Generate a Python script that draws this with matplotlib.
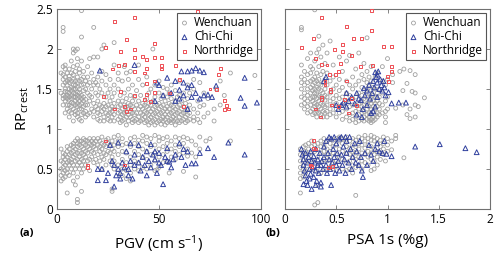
import matplotlib
matplotlib.use("Agg")
import matplotlib.pyplot as plt
from matplotlib.ticker import FormatStrFormatter

plt.rcParams['font.family'] = ['Open Sans', 'DejaVu Sans']
plt.rcParams['mathtext.fontset'] = 'custom'
plt.rcParams['mathtext.rm'] = 'Open Sans'
plt.rcParams['mathtext.it'] = 'Open Sans'

# Wenchuan, panel (a): columns of (PGV, [RP_crest values])
wen_pgv_cols = [
    (2, [1.45, 1.7, 0.35, 0.42, 0.5, 0.6, 0.75]),
    (3, [1.3, 1.38, 1.42, 1.55, 1.62, 1.68, 1.78, 2.22, 2.27, 0.38, 0.45, 0.52, 0.58, 0.65, 0.7]),
    (4, [1.2, 1.35, 1.4, 1.47, 1.5, 1.58, 1.65, 1.75, 1.8, 0.4, 0.48, 0.55, 0.62, 0.68]),
    (5, [1.25, 1.3, 1.38, 1.42, 1.46, 1.55, 1.6, 1.7, 0.2, 0.45, 0.5, 0.58, 0.65, 0.72, 0.78]),
    (6, [1.15, 1.22, 1.3, 1.36, 1.4, 1.45, 1.5, 1.58, 1.62, 1.66, 1.75, 0.42, 0.55, 0.6, 0.68, 0.75]),
    (7, [1.2, 1.28, 1.33, 1.38, 1.42, 1.48, 1.52, 1.6, 1.7, 1.85, 0.5, 0.58, 0.62, 0.7, 0.8]),
    (8, [1.1, 1.25, 1.32, 1.4, 1.45, 1.5, 1.55, 1.62, 1.68, 1.78, 1.95, 2.0, 0.35, 0.45, 0.55, 0.65, 0.72, 0.78, 0.82]),
    (9, [1.18, 1.22, 1.3, 1.35, 1.4, 1.44, 1.5, 1.55, 1.6, 1.72, 1.98, 0.3, 0.5, 0.6, 0.68, 0.75, 0.85]),
    (10, [1.15, 1.2, 1.28, 1.32, 1.38, 1.42, 1.46, 1.52, 1.58, 1.65, 1.8, 1.88, 2.0, 0.08, 0.12, 0.4, 0.55, 0.62, 0.7, 0.78, 0.82, 0.88]),
    (11, [1.12, 1.25, 1.3, 1.35, 1.4, 1.45, 1.5, 1.6, 1.7, 1.75, 0.5, 0.58, 0.65, 0.72, 0.8, 0.85]),
    (12, [1.1, 1.18, 1.25, 1.32, 1.38, 1.42, 1.55, 1.62, 1.85, 2.15, 2.48, 0.22, 0.45, 0.55, 0.62, 0.7, 0.78, 0.85]),
    (13, [1.2, 1.28, 1.35, 1.4, 1.48, 1.56, 1.65, 1.72, 0.5, 0.6, 0.68, 0.75, 0.82, 0.88]),
    (14, [1.15, 1.22, 1.3, 1.37, 1.5, 1.6, 0.55, 0.65, 0.72, 0.8, 0.86]),
    (15, [1.18, 1.3, 1.45, 1.55, 1.65, 1.78, 0.6, 0.7, 0.78, 0.85]),
    (16, [1.2, 1.35, 1.42, 1.58, 1.88, 0.48, 0.62, 0.75, 0.82, 0.88]),
    (17, [1.25, 1.4, 1.5, 1.7, 0.65, 0.72, 0.8, 0.85]),
    (18, [1.15, 1.22, 1.32, 1.55, 1.62, 1.9, 2.27, 0.58, 0.7, 0.78, 0.82, 0.88]),
    (19, [1.28, 1.45, 1.58, 0.62, 0.75, 0.85]),
    (20, [1.12, 1.2, 1.25, 1.35, 1.42, 1.55, 1.65, 1.9, 0.55, 0.68, 0.8, 0.88]),
    (21, [1.1, 1.18, 1.3, 1.5, 0.6, 0.72, 0.78, 0.85]),
    (22, [1.22, 1.28, 1.45, 1.6, 1.72, 2.0, 0.5, 0.65, 0.75, 0.82, 0.9]),
    (23, [1.1, 1.15, 1.25, 1.32, 2.05, 0.62, 0.7, 0.8]),
    (24, [1.2, 1.28, 1.4, 1.55, 1.68, 0.55, 0.68, 0.78, 0.86]),
    (25, [1.12, 1.18, 1.3, 1.45, 0.72, 0.82, 0.88]),
    (26, [1.1, 1.2, 1.25, 1.35, 1.5, 1.62, 0.6, 0.7, 0.8]),
    (27, [1.15, 1.22, 1.28, 1.4, 0.22, 0.25, 0.55, 0.65, 0.75, 0.85]),
    (28, [1.1, 1.18, 1.25, 1.32, 1.45, 1.55, 1.8, 2.08, 0.5, 0.6, 0.72, 0.8, 0.9]),
    (30, [1.12, 1.2, 1.28, 1.35, 1.5, 1.62, 1.7, 0.45, 0.55, 0.68, 0.78, 0.85, 0.92]),
    (31, [1.08, 1.15, 1.22, 1.3, 1.42]),
    (32, [1.1, 1.18, 1.25, 1.35, 1.6, 0.42, 0.5, 0.62, 0.72, 0.8, 0.88]),
    (33, [1.12, 1.2, 1.3, 1.45, 1.78]),
    (34, [1.05, 1.15, 1.22, 1.28, 1.38, 1.7, 0.38, 0.48, 0.58, 0.7, 0.82]),
    (35, [1.1, 1.18, 1.25, 1.32, 1.5, 1.62]),
    (36, [1.15, 1.22, 1.3, 1.42, 1.72, 0.35, 0.45, 0.55, 0.65, 0.78, 0.88]),
    (37, [1.08, 1.12, 1.2, 1.28, 1.35, 1.55]),
    (38, [1.1, 1.18, 1.25, 1.4, 0.5, 0.6, 0.72, 0.82, 0.9]),
    (39, [1.12, 1.2, 1.3, 1.48]),
    (40, [1.08, 1.15, 1.25, 1.35, 1.62, 1.8, 0.48, 0.58, 0.68, 0.78, 0.86]),
    (41, [1.1, 1.2, 1.28, 1.42]),
    (42, [1.12, 1.18, 1.25, 1.32, 1.55, 0.52, 0.65, 0.75, 0.85, 0.92]),
    (43, [1.08, 1.15, 1.22, 1.3]),
    (44, [1.1, 1.2, 1.28, 1.38, 1.65, 0.5, 0.62, 0.72, 0.82, 0.9]),
    (45, [1.05, 1.12, 1.18, 1.25, 1.32, 1.45]),
    (46, [1.08, 1.15, 1.22, 1.3, 1.5, 0.55, 0.68, 0.78, 0.88]),
    (47, [1.1, 1.18, 1.25, 1.35, 2.0]),
    (48, [1.05, 1.12, 1.2, 1.28, 1.4, 1.55, 0.48, 0.6, 0.7, 0.8, 0.92]),
    (49, [1.08, 1.15, 1.22, 1.3, 0.49]),
    (50, [1.1, 1.18, 1.25, 1.32, 1.45, 1.6, 0.52, 0.65, 0.75, 0.85, 0.9]),
    (51, [1.06, 1.12, 1.2, 1.28, 1.38]),
    (52, [1.1, 1.15, 1.22, 1.3, 1.42, 1.52, 0.58, 0.68, 0.78, 0.88]),
    (53, [1.05, 1.12, 1.18, 1.25, 1.35]),
    (54, [1.08, 1.15, 1.22, 1.28, 1.4, 1.5, 0.6, 0.72, 0.82, 0.9]),
    (55, [1.1, 1.18, 1.25, 1.32, 1.45, 0.45]),
    (56, [1.08, 1.12, 1.2, 1.3, 1.38, 1.55, 0.65, 0.75, 0.85]),
    (57, [1.1, 1.15, 1.22, 1.28]),
    (58, [1.05, 1.12, 1.18, 1.25, 1.35, 1.48, 0.62, 0.72, 0.8, 0.9]),
    (59, [1.1, 1.2, 1.28, 1.4]),
    (60, [1.08, 1.15, 1.22, 1.3, 1.42, 1.6, 0.68, 0.78, 0.88]),
    (61, [1.1, 1.18, 1.25, 1.35]),
    (62, [1.12, 1.2, 1.28, 1.45, 0.47, 0.7, 0.82, 0.9]),
    (63, [1.08, 1.15, 1.22, 1.32]),
    (64, [1.1, 1.18, 1.25, 1.38, 1.55, 0.66, 0.75, 0.88]),
    (65, [1.12, 1.2, 1.3, 1.45]),
    (66, [0.7, 0.85]),
    (67, [1.1, 1.15, 1.25, 1.5, 1.62]),
    (68, [0.4, 0.65, 0.8]),
    (69, [1.12, 1.2, 1.35]),
    (70, [1.08, 1.28, 1.58, 0.75, 0.9]),
    (72, [1.15, 1.3, 1.45]),
    (73, [0.85]),
    (74, [1.2, 1.38]),
    (75, [0.88]),
    (77, [1.1, 1.25]),
    (78, [1.5]),
    (80, [1.3, 1.6]),
    (82, [1.42]),
    (85, [1.7, 0.85]),
    (97, [1.67]),
]

# Chi-Chi, panel (a): (PGV, RP_crest)
chichi_pgv = [
    (21, 1.73), (38, 1.8), (49, 1.58), (54, 1.64), (61, 1.72), (64, 1.72), (66, 1.73),
    (68, 1.76), (70, 1.73), (72, 1.71), (58, 1.6), (62, 1.58), (64, 1.52), (60, 1.49),
    (56, 1.45), (62, 1.42), (66, 1.4), (68, 1.45), (70, 1.38), (72, 1.42), (60, 1.38),
    (58, 1.35), (64, 1.25), (74, 1.43), (78, 1.54), (52, 1.42), (50, 1.55), (66, 1.55),
    (76, 1.4), (48, 1.35), (90, 1.39), (92, 1.29), (98, 1.33), (92, 1.64),
    (20, 0.36), (24, 0.36), (28, 0.28), (20, 0.5), (22, 0.5), (25, 0.45), (26, 0.8),
    (30, 0.83), (36, 0.82), (46, 0.81), (48, 0.72), (28, 0.55), (30, 0.5), (31, 0.45),
    (32, 0.58), (33, 0.52), (35, 0.5), (36, 0.6), (37, 0.38), (38, 0.55), (40, 0.58),
    (41, 0.48), (42, 0.65), (43, 0.55), (44, 0.42), (45, 0.6), (46, 0.52), (47, 0.68),
    (48, 0.62), (49, 0.45), (50, 0.58), (50, 0.7), (52, 0.31), (51, 0.55), (53, 0.65),
    (54, 0.6), (55, 0.59), (54, 0.76), (56, 0.52), (58, 0.68), (60, 0.82), (62, 0.75),
    (64, 0.72), (66, 0.57), (68, 0.57), (70, 0.7), (74, 0.76), (77, 0.65), (84, 0.83),
    (92, 0.68), (34, 0.72), (38, 0.68), (44, 0.72), (29, 0.42), (31, 0.38), (27, 0.6),
    (35, 0.42), (40, 0.8), (57, 0.62), (61, 0.65), (63, 0.55),
]

# Northridge, panel (a): (PGV, RP_crest)
northridge_pgv = [
    (28, 2.35), (38, 2.39), (34, 2.12), (24, 2.02), (31, 1.97), (38, 1.99), (38, 1.89),
    (42, 1.91), (48, 1.89), (44, 1.87), (30, 1.79), (33, 1.81), (27, 1.75), (38, 1.72),
    (43, 1.70), (44, 1.76), (48, 1.6), (44, 1.57), (44, 1.43), (38, 1.42), (43, 1.37),
    (46, 1.34), (48, 1.46), (28, 1.25), (36, 1.25), (34, 1.22), (31, 1.47), (23, 1.41),
    (33, 1.28), (24, 0.85), (15, 0.55), (15, 0.52), (33, 0.55), (48, 2.07), (51, 1.89),
    (51, 1.79), (51, 1.75), (58, 1.79), (66, 2.0), (65, 2.12), (69, 2.14), (69, 2.47),
    (72, 1.89), (80, 1.93), (80, 1.76), (79, 1.68), (75, 1.5), (78, 1.49), (82, 1.36),
    (83, 1.29), (82, 1.24), (84, 1.25), (62, 1.28), (55, 1.45), (60, 1.62),
]

# Wenchuan, panel (b): columns of (PSA 1s, [RP_crest values])
wen_psa_cols = [
    (0.15, [0.2, 0.38, 0.45, 0.52, 0.6, 0.68, 0.75]),
    (0.16, [1.3, 1.4, 1.5, 1.58, 1.65, 1.8, 2.24, 2.27]),
    (0.18, [0.4, 0.5, 0.55, 0.62, 0.7, 0.78]),
    (0.19, [1.25, 1.32, 1.38, 1.45, 1.55, 1.62, 1.72]),
    (0.2, [0.45, 0.58, 0.65, 0.72, 0.8]),
    (0.22, [1.2, 1.28, 1.35, 1.42, 1.5, 1.58, 1.68, 1.88]),
    (0.23, [0.5, 0.6, 0.68, 0.75, 0.82]),
    (0.25, [1.22, 1.3, 1.38, 1.45, 1.52, 1.6, 1.7, 1.78, 1.95]),
    (0.26, [0.55, 0.62, 0.7, 0.78, 0.85]),
    (0.27, [1.18, 1.25, 1.35, 1.4, 1.48, 1.55, 1.62, 1.75]),
    (0.29, [1.2, 1.28, 1.32, 1.4, 1.45, 1.5, 1.58, 1.65, 1.85, 2.49, 0.05, 0.48, 0.6, 0.72, 0.8]),
    (0.31, [1.15, 1.22, 1.3, 1.38, 1.44, 1.52, 1.6, 1.7, 1.95]),
    (0.32, [0.08, 0.3, 0.52, 0.65, 0.75, 0.82]),
    (0.33, [1.2, 1.28, 1.35, 1.42, 1.5, 1.56, 1.62, 1.78, 2.0, 2.16]),
    (0.35, [1.18, 1.25, 1.32, 1.4, 1.48, 1.55, 1.68, 1.9, 0.45, 0.58, 0.7, 0.78, 0.85]),
    (0.37, [1.15, 1.22, 1.3, 1.38, 1.45, 1.58, 1.72, 2.05]),
    (0.38, [0.5, 0.62, 0.72, 0.8, 0.88]),
    (0.39, [1.2, 1.28, 1.36, 1.42, 1.5, 1.62, 1.82]),
    (0.41, [1.15, 1.22, 1.3, 1.4, 1.55, 1.7, 1.95, 0.48, 0.6, 0.68, 0.75, 0.85]),
    (0.44, [1.18, 1.25, 1.35, 1.45, 1.6, 2.1, 0.52, 0.65, 0.72, 0.82, 0.88]),
    (0.47, [1.2, 1.3, 1.38, 1.5, 1.65, 1.8, 0.5, 0.58, 0.7, 0.78, 0.86]),
    (0.5, [1.15, 1.25, 1.32, 1.42, 1.55, 0.48, 0.6, 0.68, 0.8, 0.88]),
    (0.53, [1.2, 1.28, 1.38, 1.48, 1.62, 1.9, 0.55, 0.65, 0.75, 0.85, 0.9]),
    (0.56, [1.12, 1.22, 1.3, 1.4, 1.52, 1.72, 0.5, 0.62, 0.72, 0.82, 0.88]),
    (0.6, [1.15, 1.25, 1.35, 1.45, 1.6, 1.85, 0.48, 0.58, 0.7, 0.78, 0.86, 0.9]),
    (0.63, [1.1, 1.18, 1.28, 1.42, 1.55, 1.92, 0.5, 0.6, 0.68, 0.76, 0.85]),
    (0.66, [1.12, 1.2, 1.3, 1.38, 1.5, 1.65, 0.45, 0.55, 0.65, 0.72, 0.8, 0.88]),
    (0.69, [1.08, 1.15, 1.22, 1.3, 1.4, 1.55, 1.75, 0.17, 0.52, 0.62, 0.7, 0.78, 0.86]),
    (0.72, [1.1, 1.18, 1.25, 1.32, 1.45, 1.6, 1.95, 0.55, 0.65, 0.75, 0.82, 0.9]),
    (0.75, [1.12, 1.2, 1.28, 1.35, 1.42, 1.52, 1.68, 0.5, 0.6, 0.7, 0.8, 0.88]),
    (0.77, [1.1, 1.15, 1.22, 1.3, 1.38, 1.48, 1.62, 1.82]),
    (0.78, [0.58, 0.68, 0.76, 0.85, 0.92]),
    (0.8, [1.12, 1.18, 1.25, 1.32, 1.4, 1.5, 1.58, 1.72, 2.14]),
    (0.81, [0.55, 0.65, 0.72, 0.8, 0.88]),
    (0.82, [1.1, 1.15, 1.2, 1.28, 1.35, 1.45, 1.55, 1.65]),
    (0.84, [1.08, 1.12, 1.18, 1.25, 1.32, 1.4, 1.48, 1.6, 1.78, 0.48, 0.62, 0.7, 0.78, 0.86, 0.92]),
    (0.86, [1.1, 1.15, 1.22, 1.28, 1.35, 1.42, 1.52]),
    (0.87, [0.5, 0.6, 0.68, 0.75, 0.85, 0.9]),
    (0.88, [1.12, 1.18, 1.25, 1.32, 1.4, 1.5, 1.65]),
    (0.9, [1.15, 1.2, 1.28, 1.35, 1.45, 1.7, 0.55, 0.65, 0.72, 0.82, 0.88]),
    (0.92, [1.18, 1.25, 1.32, 1.4, 1.5]),
    (0.93, [0.62, 0.7, 0.78, 0.86]),
    (0.95, [1.2, 1.3, 1.45, 1.6, 1.78]),
    (0.96, [0.68, 0.75, 0.82, 0.9]),
    (0.98, [1.08, 1.15, 1.22, 1.35, 1.55, 0.6]),
    (1.0, [1.25, 1.4, 1.62, 1.88, 0.72, 0.8, 0.88]),
    (1.04, [0.74, 0.85]),
    (1.05, [1.58, 1.68]),
    (1.08, [1.26, 0.88, 0.92]),
    (1.12, [1.72]),
    (1.15, [1.3, 1.48]),
    (1.16, [1.75, 0.64]),
    (1.19, [1.57, 1.18]),
    (1.22, [1.25, 1.13, 1.73]),
    (1.24, [1.47]),
    (1.27, [1.45, 1.3, 1.68, 1.15]),
    (1.3, [1.28]),
    (1.36, [1.39]),
]

# Chi-Chi, panel (b): (PSA 1s, RP_crest)
chichi_psa = [
    (0.38, 1.6), (0.4, 1.65), (0.52, 1.25), (0.55, 1.3), (0.57, 1.33), (0.6, 1.28),
    (0.62, 1.35), (0.65, 1.4), (0.68, 1.32), (0.7, 1.45), (0.72, 1.38), (0.74, 1.36),
    (0.76, 1.25), (0.77, 1.51), (0.78, 1.42), (0.8, 1.3), (0.8, 1.48), (0.82, 1.55),
    (0.83, 1.38), (0.85, 1.45), (0.86, 1.6), (0.87, 1.52), (0.88, 1.71), (0.89, 1.65),
    (0.9, 1.58), (0.9, 1.68), (0.91, 1.72), (0.92, 1.5), (0.93, 1.62), (0.94, 1.55),
    (0.95, 1.48), (0.96, 1.6), (0.97, 1.52), (0.98, 1.42), (1.01, 1.46), (1.04, 1.32),
    (1.11, 1.33), (1.18, 1.33), (0.7, 1.18), (0.75, 1.15), (0.84, 1.2), (0.88, 1.28),
    (0.9, 1.4), (0.86, 1.22), (0.6, 1.45), (0.5, 1.3),
    (0.16, 0.75), (0.17, 0.68), (0.18, 0.62), (0.18, 0.55), (0.19, 0.48), (0.2, 0.7),
    (0.2, 0.42), (0.21, 0.35), (0.22, 0.58), (0.22, 0.3), (0.23, 0.65), (0.24, 0.5),
    (0.24, 0.38), (0.25, 0.72), (0.25, 0.44), (0.26, 0.6), (0.26, 0.25), (0.27, 0.52),
    (0.28, 0.4), (0.28, 0.66), (0.29, 0.58), (0.3, 0.48), (0.3, 0.75), (0.31, 0.35),
    (0.32, 0.62), (0.32, 0.55), (0.33, 0.45), (0.34, 0.7), (0.35, 0.28), (0.35, 0.55),
    (0.36, 0.6), (0.37, 0.5), (0.38, 0.78), (0.38, 0.65), (0.4, 0.85), (0.4, 0.55),
    (0.41, 0.45), (0.42, 0.7), (0.43, 0.62), (0.43, 0.9), (0.44, 0.5), (0.45, 0.88),
    (0.46, 0.58), (0.47, 0.75), (0.48, 0.65), (0.48, 0.9), (0.49, 0.45), (0.5, 0.82),
    (0.5, 0.55), (0.51, 0.7), (0.52, 0.6), (0.53, 0.88), (0.53, 0.48), (0.55, 0.9),
    (0.55, 0.68), (0.56, 0.55), (0.57, 0.78), (0.58, 0.62), (0.59, 0.45), (0.59, 0.9),
    (0.6, 0.85), (0.6, 0.7), (0.62, 0.58), (0.63, 0.9), (0.64, 0.75), (0.65, 0.5),
    (0.66, 0.65), (0.68, 0.82), (0.69, 0.58), (0.7, 0.72), (0.72, 0.55), (0.73, 0.85),
    (0.74, 0.65), (0.75, 0.48), (0.76, 0.4), (0.78, 0.7), (0.8, 0.55), (0.82, 0.8),
    (0.84, 0.68), (0.86, 0.6), (0.88, 0.75), (0.9, 0.82), (0.92, 0.72), (0.95, 0.7),
    (0.97, 0.85), (0.99, 0.69), (1.04, 0.66), (1.27, 0.78), (1.51, 0.81), (1.76, 0.76),
    (1.87, 0.71), (0.3, 0.3), (0.35, 0.33), (0.18, 0.31), (0.45, 0.3),
]

# Northridge, panel (b): (PSA 1s, RP_crest)
northridge_psa = [
    (0.36, 2.39), (0.84, 2.48), (0.6, 2.28), (0.84, 2.23), (0.28, 2.13), (0.67, 2.13),
    (0.75, 2.13), (0.56, 2.06), (0.48, 1.99), (0.16, 2.02), (0.56, 1.97), (0.65, 1.92),
    (0.36, 1.81), (0.41, 1.8), (0.74, 1.78), (0.85, 1.79), (0.96, 2.03), (1.04, 2.03),
    (1.04, 1.78), (1.04, 1.72), (1.0, 1.66), (1.01, 1.59), (0.43, 1.68), (0.49, 1.68),
    (0.39, 1.59), (0.39, 1.55), (0.44, 1.5), (0.44, 1.47), (0.52, 1.72), (0.36, 1.4),
    (0.36, 1.37), (0.58, 1.37), (0.65, 1.38), (0.45, 1.3), (0.7, 1.29), (0.3, 1.25),
    (0.52, 1.28), (0.62, 1.2), (0.35, 1.15), (0.28, 0.86), (0.28, 0.76), (0.3, 0.75),
    (0.25, 0.55), (0.26, 0.53), (0.46, 0.53), (0.42, 0.52), (0.6, 1.6), (0.3, 1.88),
    (0.54, 1.82),
]


def expand(cols):
    xs, ys = [], []
    for x, vals in cols:
        for v in vals:
            xs.append(x)
            ys.append(v)
    return xs, ys


def split(pairs):
    return [p[0] for p in pairs], [p[1] for p in pairs]


gray = '#a0a0a0'
blue = '#2f3f9e'
red = '#ee4f55'
spine = '#707070'

fig = plt.figure(figsize=(5, 2.58), dpi=100)
ax1 = fig.add_axes([0.114, 0.19, 0.408, 0.775])
ax2 = fig.add_axes([0.57, 0.19, 0.41, 0.775])


def draw(ax, wen, chi, nor):
    wx, wy = wen
    ax.scatter(wx, wy, s=8, facecolors='none', edgecolors=gray, linewidths=0.6,
               label='Wenchuan', zorder=2)
    cx, cy = chi
    ax.scatter(cx, cy, s=12, marker='^', facecolors='none', edgecolors=blue,
               linewidths=0.7, label='Chi-Chi', zorder=3)
    nx, ny = nor
    ax.scatter(nx, ny, s=4.5, marker='s', facecolors='none', edgecolors=red,
               linewidths=0.7, label='Northridge', zorder=3)
    ax.set_ylim(0, 2.5)
    ax.set_yticks([0, 0.5, 1, 1.5, 2, 2.5])
    ax.yaxis.set_major_formatter(FormatStrFormatter('%g'))
    ax.xaxis.set_major_formatter(FormatStrFormatter('%g'))
    ax.tick_params(direction='in', top=True, right=True, length=3, width=0.6,
                   color=spine, labelsize=8.5, pad=3)
    for s in ax.spines.values():
        s.set_color(spine)
        s.set_linewidth(0.8)
    leg = ax.legend(loc='upper right', fontsize=8.5, frameon=True, fancybox=False,
                    framealpha=1, edgecolor='#555555', borderpad=0.25,
                    labelspacing=0.1, handlelength=0.8, handletextpad=0.4,
                    borderaxespad=0.35, scatterpoints=1)
    leg.get_frame().set_linewidth(0.8)


draw(ax1, expand(wen_pgv_cols), split(chichi_pgv), split(northridge_pgv))
ax1.set_xlim(0, 100)
ax1.set_xticks([0, 50, 100])
ax1.set_xlabel('PGV (cm s$^{-1}$)', fontsize=11, labelpad=5)
ax1.set_ylabel('RP$_{crest}$', fontsize=11, labelpad=4)

draw(ax2, expand(wen_psa_cols), split(chichi_psa), split(northridge_psa))
ax2.set_xlim(0, 2)
ax2.set_xticks([0, 0.5, 1, 1.5, 2])
ax2.tick_params(labelleft=False)
ax2.set_xlabel('PSA 1s (%g)', fontsize=11, labelpad=5)

fig.text(0.054, 0.095, '(a)', fontsize=8, fontweight='bold', ha='center', va='center')
fig.text(0.546, 0.095, '(b)', fontsize=8, fontweight='bold', ha='center', va='center')

fig.savefig('out.png', dpi=100)
